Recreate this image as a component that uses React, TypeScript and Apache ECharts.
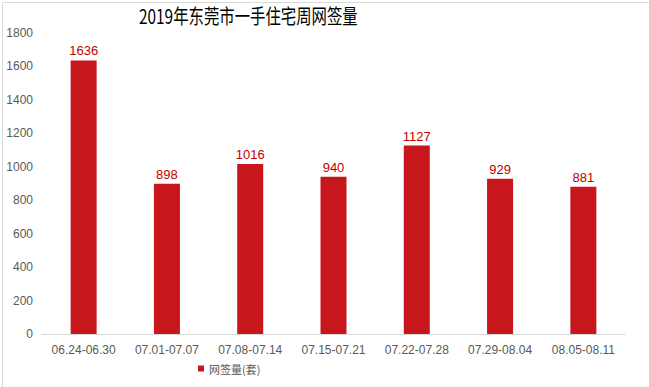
import React, { useEffect, useRef } from "react";
import * as echarts from "echarts";

const categories = ["06.24-06.30", "07.01-07.07", "07.08-07.14", "07.15-07.21", "07.22-07.28", "07.29-08.04", "08.05-08.11"];
const values = [1636, 898, 1016, 940, 1127, 929, 881];
const seriesName = "网签量(套)";
const titleText = "2019年东莞市一手住宅周网签量";

export default function App() {
  const ref = useRef<HTMLDivElement>(null);
  useEffect(() => {
    const chart = echarts.init(ref.current!, null, { renderer: "svg" });
    chart.setOption({
      animation: false,
      backgroundColor: "#fff",
      legend: {
        bottom: 8,
        left: 193,
        itemWidth: 6,
        itemHeight: 6,
        itemGap: 4,
        textStyle: { fontSize: 11, color: "#595959", fontFamily: "Noto Sans CJK SC" },
        data: [{ name: seriesName, icon: "rect" }],
      },
      grid: { left: 42, right: 24, top: 33, bottom: 53 },
      xAxis: {
        type: "category",
        data: categories,
        axisLine: { lineStyle: { color: "#d9d9d9" } },
        axisTick: { show: false },
        axisLabel: { color: "#595959", fontSize: 12, margin: 10, interval: 0, fontFamily: "Liberation Sans" },
      },
      yAxis: {
        type: "value",
        min: 0,
        max: 1800,
        interval: 200,
        splitLine: { show: false },
        axisLine: { show: false },
        axisTick: { show: false },
        axisLabel: {
          color: "#595959",
          fontSize: 12,
          margin: 9,
          fontFamily: "Liberation Sans",
          formatter: (v: number) => String(v),
        },
      },
      series: [
        {
          name: seriesName,
          type: "bar",
          data: values,
          barWidth: 26,
          itemStyle: { color: "#c8161d" },
          label: {
            show: true,
            position: "top",
            distance: 3,
            color: "#c00000",
            fontSize: 13,
            fontFamily: "Liberation Sans",
          },
        },
      ],
      graphic: [
        {
          type: "rect",
          left: 0,
          top: 0,
          shape: { width: 648, height: 386 },
          style: { fill: "none", stroke: "#d9d9d9", lineWidth: 1 },
          silent: true,
        },
        {
          type: "text",
          x: 139,
          y: 5,
          scaleX: 0.77,
          silent: true,
          style: {
            text: titleText,
            fill: "#000",
            font: '20px "Noto Sans CJK SC"',
          },
        },
      ],
    });
    return () => chart.dispose();
  }, []);
  return <div ref={ref} style={{ width: 649, height: 387, position: "absolute", left: 0, top: 0 }} />;
}
